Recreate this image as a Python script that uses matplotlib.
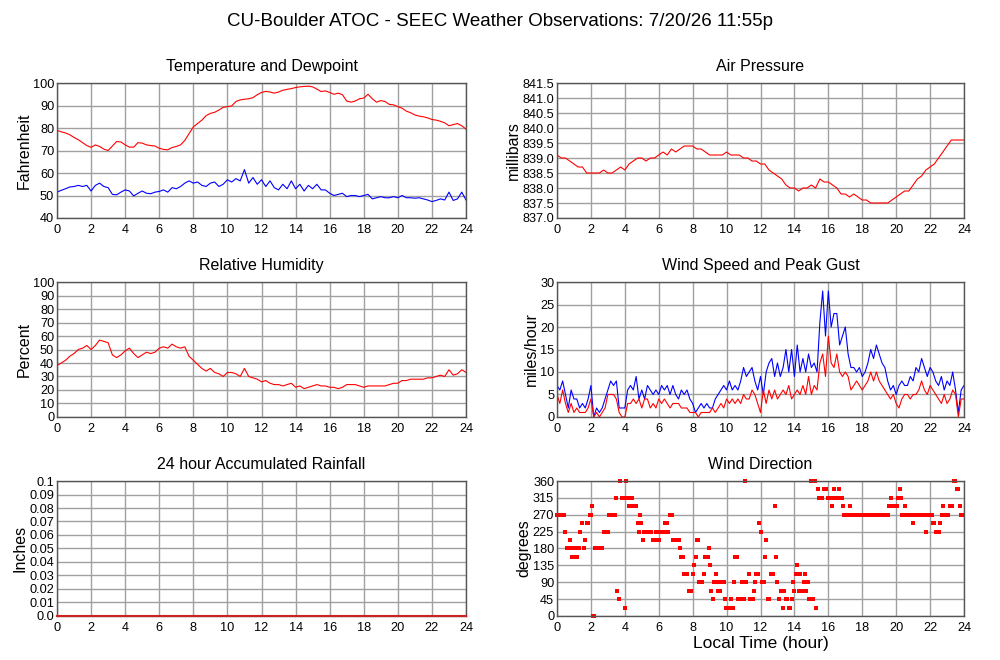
import numpy as np
import matplotlib
matplotlib.use("Agg")
import matplotlib.pyplot as plt

plt.rcParams["font.family"] = ["Liberation Sans", "DejaVu Sans"]

# ---- data (hours 0..24) ----
# temperature / dewpoint / humidity / pressure every 15 min
temp_f = [79.0, 78.3, 77.8, 77.0, 75.8, 74.8, 73.5, 72.2, 71.4, 72.5, 71.8, 70.6, 70.0, 72.0, 74.0, 73.8,
          72.5, 71.5, 71.5, 73.5, 73.3, 72.5, 72.2, 72.0, 71.0, 70.5, 70.3, 71.3, 71.8, 72.5, 74.5, 77.5,
          80.5, 82.0, 83.5, 85.5, 86.5, 87.0, 88.0, 89.2, 89.5, 89.8, 91.8, 92.5, 92.8, 93.0, 93.5, 94.8,
          95.8, 96.3, 96.0, 95.5, 96.0, 96.8, 97.2, 97.5, 98.0, 98.3, 98.5, 98.6, 98.3, 97.3, 96.2, 96.5,
          95.8, 95.0, 95.5, 94.8, 92.0, 91.5, 92.0, 93.0, 93.3, 95.0, 93.0, 91.5, 92.2, 91.8, 90.5, 90.3,
          89.5, 88.8, 87.5, 86.8, 85.8, 85.3, 85.0, 84.5, 83.8, 83.5, 83.0, 82.3, 81.0, 81.5, 82.0, 81.0,
          79.5]
dewpoint_f = [51.5, 52.3, 53.0, 53.8, 54.0, 54.5, 54.0, 54.5, 52.0, 54.5, 55.5, 54.0, 53.5, 50.5, 50.3, 51.5,
              52.5, 52.0, 49.8, 51.0, 52.0, 51.0, 50.8, 51.5, 51.8, 52.5, 51.5, 53.5, 53.0, 54.0, 55.5, 56.5,
              55.5, 56.0, 54.5, 54.0, 55.5, 56.0, 54.0, 55.0, 57.0, 56.0, 57.5, 56.5, 61.5, 55.5, 58.0, 55.0,
              57.0, 54.0, 56.5, 53.5, 52.5, 55.0, 53.0, 56.5, 53.0, 55.0, 52.0, 54.5, 53.0, 55.0, 52.5, 52.5,
              51.0, 50.0, 50.5, 51.0, 49.5, 50.0, 50.0, 49.5, 50.0, 50.5, 48.5, 49.0, 49.5, 49.0, 49.0, 49.5,
              49.0, 50.0, 49.0, 49.0, 48.8, 49.0, 48.5, 48.0, 47.3, 47.8, 48.5, 48.0, 51.5, 47.8, 48.5, 51.5,
              48.0]
pressure_mb = [839.1, 839.0, 839.0, 838.9, 838.8, 838.7, 838.7, 838.5, 838.5, 838.5, 838.5, 838.6, 838.5,
               838.5, 838.6, 838.7, 838.6, 838.8, 838.9, 839.0, 839.0, 838.9, 839.0, 839.0, 839.1, 839.2,
               839.1, 839.3, 839.2, 839.3, 839.4, 839.4, 839.4, 839.3, 839.3, 839.2, 839.1, 839.1, 839.1,
               839.1, 839.2, 839.1, 839.1, 839.1, 839.0, 839.0, 838.9, 838.9, 838.8, 838.8, 838.6, 838.5,
               838.4, 838.3, 838.1, 838.0, 838.0, 837.9, 838.0, 838.0, 838.1, 838.0, 838.3, 838.2, 838.2,
               838.1, 838.0, 837.8, 837.8, 837.7, 837.8, 837.7, 837.6, 837.6, 837.5, 837.5, 837.5, 837.5,
               837.5, 837.6, 837.7, 837.8, 837.9, 837.9, 838.1, 838.3, 838.4, 838.6, 838.7, 838.8, 839.0,
               839.2, 839.4, 839.6, 839.6, 839.6, 839.6]
rh_pct = [38, 40, 42, 45, 47, 50, 51, 53, 50, 53, 57, 56, 55, 46, 44, 46, 49, 51, 47, 44, 46, 48, 47, 48,
          51, 52, 51, 54, 52, 51, 52, 45, 42, 39, 36, 34, 36, 33, 32, 30, 33, 33, 32, 30, 36, 30, 29, 28,
          26, 27, 25, 24, 24, 23, 24, 25, 22, 23, 21, 22, 23, 24, 23, 23, 22, 22, 21, 22, 24, 24, 24, 23,
          22, 23, 23, 23, 23, 23, 24, 25, 25, 27, 27, 28, 28, 28, 28, 29, 29, 30, 31, 30, 35, 31, 32, 35,
          33]

# wind every 10 min
gust_mph = [7, 6, 8, 5, 2, 6, 4, 4, 2, 3, 2, 4, 7, 0, 2, 1, 2, 4, 6, 8, 7, 8, 2, 2,
            2, 6, 7, 6, 9, 4, 6, 4, 7, 6, 5, 6, 5, 7, 6, 7, 5, 7, 5, 4, 6, 5, 6, 4,
            3, 1, 2, 3, 2, 3, 2, 2, 4, 5, 6, 7, 6, 8, 6, 7, 6, 8, 11, 9, 10, 11, 8, 6,
            9, 5, 10, 12, 13, 9, 12, 9, 11, 15, 10, 15, 9, 16, 10, 13, 10, 14, 11, 12, 10, 21,
            28, 18, 28, 20, 23, 23, 16, 18, 20, 14, 11, 11, 10, 11, 9, 10, 12, 15, 13, 16, 14, 12,
            11, 8, 6, 7, 5, 7, 8, 7, 7, 9, 8, 11, 10, 13, 11, 9, 11, 10, 8, 7, 9, 6, 8, 7,
            10, 6, 1, 6, 7]
speed_mph = [5, 3, 6, 3, 1, 3, 1, 2, 1, 1, 1, 2, 4, 0, 1, 0, 1, 2, 5, 5, 5, 4, 1, 0,
             0, 3, 3, 4, 3, 4, 2, 4, 4, 2, 3, 2, 4, 3, 4, 3, 2, 3, 3, 3, 2, 2, 2, 1,
             1, 1, 0, 1, 1, 1, 1, 2, 1, 2, 3, 2, 4, 3, 4, 3, 4, 3, 5, 4, 4, 6, 5, 3,
             1, 6, 3, 6, 4, 6, 4, 5, 6, 5, 7, 4, 5, 6, 5, 7, 5, 9, 5, 7, 6, 12,
             14, 9, 18, 12, 11, 14, 10, 9, 10, 9, 6, 7, 8, 7, 6, 7, 8, 10, 8, 10, 8, 7,
             6, 5, 4, 5, 3, 2, 4, 5, 5, 4, 5, 5, 6, 8, 6, 5, 7, 6, 5, 4, 3, 5, 3, 4,
             6, 5, 0, 4, 4]

rain_in = [0.0, 0.0, 0.0, 0.0, 0.0, 0.0, 0.0, 0.0, 0.0, 0.0, 0.0, 0.0, 0.0,
           0.0, 0.0, 0.0, 0.0, 0.0, 0.0, 0.0, 0.0, 0.0, 0.0, 0.0, 0.0]

dir_hours = [0.0, 0.08, 0.17, 0.25, 0.33, 0.42, 0.5, 0.58, 0.67, 0.75, 0.8, 0.9, 0.98, 1.08, 1.15, 1.22,
             1.3, 1.38, 1.48, 1.57, 1.67, 1.77, 1.85, 1.92, 2.0, 2.06, 2.14, 2.18, 2.26, 2.34, 2.42, 2.5,
             2.58, 2.66, 2.75, 2.83, 2.92, 3.0, 3.08, 3.17, 3.25, 3.33, 3.42, 3.5, 3.56, 3.65, 3.73, 3.83,
             3.9, 3.99, 4.07, 4.13, 4.22, 4.27, 4.35, 4.43, 4.5, 4.58, 4.66, 4.75, 4.81, 4.9, 4.98, 5.06,
             5.15, 5.23, 5.31, 5.4, 5.48, 5.56, 5.64, 5.72, 5.83, 5.9, 5.98, 6.03, 6.1, 6.18, 6.27, 6.35,
             6.43, 6.5, 6.57, 6.68, 6.76, 6.84, 6.92, 7.0, 7.08, 7.17, 7.27, 7.33, 7.42, 7.5, 7.58, 7.66,
             7.76, 7.84, 7.92, 8.0, 8.07, 8.17, 8.25, 8.33, 8.4, 8.48, 8.56, 8.64, 8.72, 8.8, 8.88, 8.94,
             9.0, 9.08, 9.17, 9.23, 9.35, 9.43, 9.5, 9.57, 9.63, 9.7, 9.77, 9.82, 9.88, 9.98, 10.06, 10.14,
             10.25, 10.33, 10.4, 10.45, 10.52, 10.6, 10.7, 10.78, 10.86, 10.92, 11.0, 11.06, 11.16, 11.3,
             11.37, 11.45, 11.53, 11.6, 11.69, 11.76, 11.84, 11.94, 12.02, 12.08, 12.15, 12.22, 12.27,
             12.34, 12.42, 12.5, 12.6, 12.68, 12.76, 12.87, 12.93, 13.0, 13.1, 13.2, 13.3, 13.4, 13.48,
             13.56, 13.67, 13.75, 13.85, 13.92, 13.98, 14.08, 14.18, 14.28, 14.34, 14.44, 14.54, 14.6,
             14.7, 14.78, 14.86, 14.94, 15.0, 15.08, 15.1, 15.2, 15.29, 15.37, 15.45, 15.53, 15.62, 15.72,
             15.8, 15.88, 15.96, 16.04, 16.1, 16.2, 16.3, 16.36, 16.45, 16.6, 16.7, 16.8, 16.86, 16.94,
             17.02, 17.1, 17.18, 17.26, 17.33, 17.42, 17.5, 17.58, 17.67, 17.75, 17.83, 17.92, 18.0,
             18.08, 18.17, 18.25, 18.33, 18.42, 18.5, 18.58, 18.67, 18.75, 18.83, 18.92, 19.0, 19.08,
             19.17, 19.25, 19.33, 19.42, 19.5, 19.6, 19.72, 19.78, 19.86, 19.94, 20.02, 20.1, 20.2, 20.28,
             20.34, 20.42, 20.53, 20.63, 20.71, 20.8, 20.9, 21.0, 21.07, 21.15, 21.23, 21.32, 21.4, 21.48,
             21.57, 21.65, 21.74, 21.85, 21.93, 22.02, 22.1, 22.17, 22.25, 22.34, 22.42, 22.5, 22.6, 22.7,
             22.78, 22.9, 22.98, 23.07, 23.15, 23.23, 23.32, 23.4, 23.48, 23.56, 23.64, 23.75, 23.85, 23.93]
dir_deg = [270, 270, 270, 270, 270, 270, 225, 180, 180, 202.5, 180, 157.5, 157.5, 180, 157.5, 180,
           180, 225, 247.5, 180, 202.5, 247.5, 247.5, 270, 270, 292.5, 0, 0, 180, 180, 180, 180,
           180, 180, 225, 225, 225, 225, 270, 270, 270, 270, 270, 315, 67.5, 45, 360, 315,
           315, 22.5, 360, 315, 292.5, 315, 315, 315, 292.5, 292.5, 292.5, 247.5, 225, 270, 247.5, 202.5,
           225, 225, 225, 225, 225, 225, 202.5, 202.5, 225, 202.5, 202.5, 202.5, 225, 225, 225, 247.5,
           225, 247.5, 225, 270, 270, 202.5, 202.5, 202.5, 202.5, 202.5, 180, 157.5, 157.5, 112.5, 112.5, 112.5,
           67.5, 67.5, 67.5, 112.5, 135, 157.5, 202.5, 202.5, 90, 90, 90, 112.5, 157.5, 157.5, 157.5, 180,
           135, 67.5, 45, 90, 112.5, 90, 67.5, 67.5, 67.5, 90, 90, 90, 45, 22.5, 22.5, 22.5,
           45, 22.5, 22.5, 90, 157.5, 157.5, 45, 45, 45, 90, 45, 360, 90, 112.5,
           45, 45, 45, 67.5, 90, 112.5, 112.5, 247.5, 225, 90, 90, 90, 157.5,
           202.5, 45, 45, 112.5, 112.5, 112.5, 292.5, 157.5, 90, 45, 67.5, 22.5, 67.5, 45,
           45, 22.5, 22.5, 45, 90, 67.5, 112.5, 135, 67.5, 112.5, 67.5, 90, 112.5,
           67.5, 90, 45, 45, 360, 360, 45, 360, 22.5, 337.5, 315, 315, 315, 337.5,
           337.5, 337.5, 315, 315, 315, 292.5, 315, 337.5, 315, 337.5, 315, 315, 292.5, 270,
           270, 270, 270, 292.5, 270, 270, 270, 270, 270, 270, 270, 270, 270,
           270, 270, 270, 270, 270, 270, 270, 270, 270, 270, 270, 270, 270,
           270, 270, 270, 270, 270, 292.5, 315, 292.5, 292.5, 292.5, 292.5, 315, 337.5, 315,
           270, 270, 292.5, 270, 270, 270, 270, 247.5, 270, 270, 270, 270, 270, 270,
           270, 270, 225, 270, 270, 270, 270, 247.5, 247.5, 225, 225, 225, 247.5, 270,
           292.5, 270, 270, 270, 292.5, 292.5, 292.5, 360, 360, 337.5, 337.5, 292.5, 270, 270]

t15 = np.linspace(0, 24, len(temp_f))
t10 = np.linspace(0, 24, len(gust_mph))
t_rain = np.linspace(0, 24, len(rain_in))

RED = "#ff0000"
BLUE = "#0000ff"
GRID = "#a0a0a0"
LW = 0.8

fig = plt.figure(figsize=(10, 6.6), dpi=100)
fig.text(0.5, 0.968, "CU-Boulder ATOC - SEEC Weather Observations: 7/20/26 11:55p",
         ha="center", va="center", fontsize=13.5)

left_x, right_x = 0.057, 0.557
w_left, w_right = 0.409, 0.407
rows = [0.6697, 0.3682, 0.0667]
h = 0.2045


def style_axes(ax, title, ylabel, yticks, ylabels=None):
    ax.set_xlim(0, 24)
    ax.set_ylim(yticks[0], yticks[-1])
    ax.set_xticks(range(0, 25, 2))
    ax.set_yticks(yticks)
    if ylabels is not None:
        ax.set_yticklabels(ylabels)
    ax.grid(True, color=GRID, linewidth=1.0)
    ax.set_axisbelow(True)
    ax.tick_params(length=0, labelsize=9.2)
    ax.tick_params(axis="y", pad=2)
    ax.tick_params(axis="x", pad=4)
    for s in ax.spines.values():
        s.set_color("#555555")
        s.set_linewidth(1.0)
    ax.set_title(title, fontsize=11.5, pad=9)
    ax.set_ylabel(ylabel, fontsize=11.5, labelpad=1)


# Temperature and Dewpoint
ax = fig.add_axes([left_x, rows[0], w_left, h])
ax.plot(t15, temp_f, color=RED, lw=LW)
ax.plot(t15, dewpoint_f, color=BLUE, lw=LW)
style_axes(ax, "Temperature and Dewpoint", "Fahrenheit", list(range(40, 101, 10)))

# Air Pressure
ax = fig.add_axes([right_x, rows[0], w_right, h])
ax.plot(t15, pressure_mb, color=RED, lw=LW)
pticks = [837.0, 837.5, 838.0, 838.5, 839.0, 839.5, 840.0, 840.5, 841.0, 841.5]
style_axes(ax, "Air Pressure", "millibars", pticks, [f"{p:.1f}" for p in pticks])

# Relative Humidity
ax = fig.add_axes([left_x, rows[1], w_left, h])
ax.plot(t15, rh_pct, color=RED, lw=LW)
style_axes(ax, "Relative Humidity", "Percent", list(range(0, 101, 10)))

# Wind Speed and Peak Gust
ax = fig.add_axes([right_x, rows[1], w_right, h])
ax.plot(t10, gust_mph, color=BLUE, lw=LW)
ax.plot(t10, speed_mph, color=RED, lw=LW)
style_axes(ax, "Wind Speed and Peak Gust", "miles/hour", list(range(0, 31, 5)))

# Rainfall
ax = fig.add_axes([left_x, rows[2], w_left, h])
ax.plot(t_rain, rain_in, color="#cc2222", lw=1.5, clip_on=False, zorder=5)
rticks = [i / 100 for i in range(11)]
rlabels = ["0.0"] + [f"{v:.2f}" for v in rticks[1:-1]] + ["0.1"]
style_axes(ax, "24 hour Accumulated Rainfall", "Inches", rticks, rlabels)

# Wind Direction
ax = fig.add_axes([right_x, rows[2], w_right, h])
ax.plot(dir_hours, dir_deg, "s", color=RED, ms=2.2, mew=0, clip_on=False)
style_axes(ax, "Wind Direction", "degrees", list(range(0, 361, 45)))
ax.set_xlabel("Local Time (hour)", fontsize=12.5, labelpad=2)

fig.savefig("out.png", dpi=100)
